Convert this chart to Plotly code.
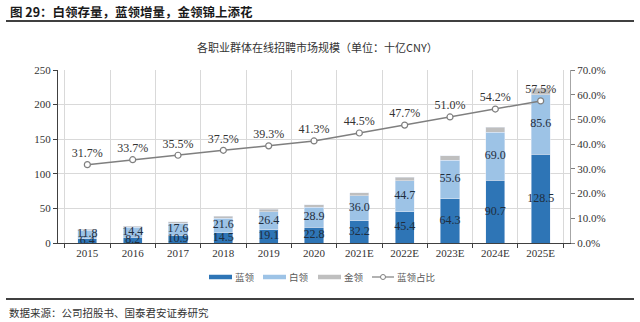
import plotly.graph_objects as go

# 各职业群体在线招聘市场规模（十亿CNY）
years = ["2015", "2016", "2017", "2018", "2019", "2020",
         "2021E", "2022E", "2023E", "2024E", "2025E"]
blue_collar = [6.4, 8.2, 10.9, 14.5, 19.1, 22.8, 32.2, 45.4, 64.3, 90.7, 128.5]
white_collar = [11.8, 14.4, 17.6, 21.6, 26.4, 28.9, 36.0, 44.7, 55.6, 69.0, 85.6]
gold_collar = [2.0, 1.7, 2.2, 2.6, 3.1, 3.5, 4.2, 5.1, 6.2, 7.6, 9.4]
blue_share = [31.7, 33.7, 35.5, 37.5, 39.3, 41.3, 44.5, 47.7, 51.0, 54.2, 57.5]

C_BLUE = "#2E75B6"
C_WHITE = "#9DC3E6"
C_GOLD = "#BFBFBF"
C_LINE = "#7F7F7F"

SERIF = "Liberation Serif"
SANS = "Noto Sans CJK SC"

# plot-area geometry in pixels (used for paper-coordinate decorations)
PW, PH = 512, 173


def px_x(px):
    return (px - 58) / PW


def px_y(py):
    return (243 - py) / PH


fig = go.Figure()

fig.add_trace(go.Bar(x=years, y=blue_collar, name="蓝领",
                     marker_color=C_BLUE, width=0.42))
fig.add_trace(go.Bar(x=years, y=white_collar, name="白领",
                     marker_color=C_WHITE, width=0.42))
fig.add_trace(go.Bar(x=years, y=gold_collar, name="金领",
                     marker_color=C_GOLD, width=0.42))

# value labels centred in the blue and white segments
label_font = dict(family=SERIF, size=12, color="#1F2D3D")
fig.add_trace(go.Scatter(
    x=years, y=[b / 2 for b in blue_collar], mode="text",
    text=[f"{v:.1f}" for v in blue_collar], textposition="middle center",
    textfont=label_font, hoverinfo="skip", cliponaxis=False,
))
fig.add_trace(go.Scatter(
    x=years, y=[b + w / 2 for b, w in zip(blue_collar, white_collar)],
    mode="text", text=[f"{v:.1f}" for v in white_collar],
    textposition="middle center", textfont=label_font,
    hoverinfo="skip", cliponaxis=False,
))

fig.add_trace(go.Scatter(
    x=years, y=blue_share, name="蓝领占比", yaxis="y2",
    mode="lines+markers+text",
    line=dict(color=C_LINE, width=1.5),
    marker=dict(symbol="circle", size=6, color="white",
                line=dict(color=C_LINE, width=1.2)),
    text=[f"{v:.1f}%" for v in blue_share], textposition="top center",
    textfont=dict(family=SERIF, size=12, color="#333333"),
    cliponaxis=False,
))

# legend: short strokes + labels
LEG_Y = 277
legend_items = [("蓝领", C_BLUE, 209), ("白领", C_WHITE, 263), ("金领", C_GOLD, 318)]
shapes = []
annotations = []
for nm, col, x0 in legend_items:
    shapes.append(dict(type="line", xref="paper", yref="paper",
                       x0=px_x(x0), x1=px_x(x0 + 23), y0=px_y(LEG_Y), y1=px_y(LEG_Y),
                       line=dict(color=col, width=4.5)))
    annotations.append(dict(text=nm, xref="paper", yref="paper",
                            x=px_x(x0 + 24), y=px_y(LEG_Y), xanchor="left",
                            yanchor="middle", showarrow=False,
                            font=dict(family=SANS, size=9.5, color="#595959")))
shapes.append(dict(type="line", xref="paper", yref="paper",
                   x0=px_x(372), x1=px_x(394), y0=px_y(LEG_Y), y1=px_y(LEG_Y),
                   line=dict(color=C_LINE, width=1.2)))
shapes.append(dict(type="circle", xref="paper", yref="paper",
                   x0=px_x(380.5), x1=px_x(385.5),
                   y0=px_y(LEG_Y + 2.5), y1=px_y(LEG_Y - 2.5),
                   fillcolor="white", line=dict(color=C_LINE, width=1)))
annotations.append(dict(text="蓝领占比", xref="paper", yref="paper",
                        x=px_x(395), y=px_y(LEG_Y), xanchor="left",
                        yanchor="middle", showarrow=False,
                        font=dict(family=SANS, size=9.5, color="#595959")))

# header, chart title and source note
annotations += [
    dict(text="<b>图 29：白领存量，蓝领增量，金领锦上添花</b>",
         xref="paper", yref="paper", x=px_x(8), y=px_y(11),
         xanchor="left", yanchor="middle", showarrow=False,
         font=dict(family=SANS, size=12.5, color="#1A1A1A")),
    dict(text="各职业群体在线招聘市场规模（单位：十亿CNY）",
         xref="paper", yref="paper", x=px_x(317), y=px_y(47),
         xanchor="center", yanchor="middle", showarrow=False,
         font=dict(family=SANS, size=11, color="#333333")),
    dict(text="数据来源：公司招股书、国泰君安证券研究",
         xref="paper", yref="paper", x=px_x(7), y=px_y(312),
         xanchor="left", yanchor="middle", showarrow=False,
         font=dict(family=SANS, size=10.5, color="#333333")),
]
shapes += [
    dict(type="line", xref="paper", yref="paper",
         x0=px_x(6), x1=px_x(634), y0=px_y(21), y1=px_y(21),
         line=dict(color="#404040", width=2)),
    dict(type="line", xref="paper", yref="paper",
         x0=px_x(6), x1=px_x(634), y0=px_y(299), y1=px_y(299),
         line=dict(color="#404040", width=2)),
]

fig.update_layout(
    width=640, height=322,
    margin=dict(l=58, r=70, t=70, b=79),
    paper_bgcolor="white", plot_bgcolor="white",
    barmode="stack", showlegend=False,
    font=dict(family=SERIF, size=11, color="#404040"),
    xaxis=dict(
        type="category", tickson="boundaries",
        showgrid=True, gridcolor="#D9D9D9", gridwidth=1,
        showline=True, linecolor="#404040", linewidth=1.2,
        ticks="outside", ticklen=4, tickcolor="#404040",
        tickfont=dict(family=SERIF, size=11, color="#333333"),
    ),
    yaxis=dict(
        range=[0, 250], dtick=50,
        showgrid=True, gridcolor="#D9D9D9", gridwidth=1,
        showline=True, linecolor="#404040", linewidth=1.2,
        ticks="outside", ticklen=4, tickcolor="#404040",
        tickfont=dict(family=SERIF, size=11, color="#333333"),
        zeroline=False,
    ),
    yaxis2=dict(
        overlaying="y", side="right", range=[0, 70], dtick=10,
        tickformat=".1f", ticksuffix="%", showgrid=False,
        showline=True, linecolor="#A6A6A6", linewidth=1,
        ticks="outside", ticklen=4, tickcolor="#808080",
        tickfont=dict(family=SERIF, size=11, color="#333333"),
        zeroline=False,
    ),
    annotations=annotations,
    shapes=shapes,
)

fig.write_html("out.html")
